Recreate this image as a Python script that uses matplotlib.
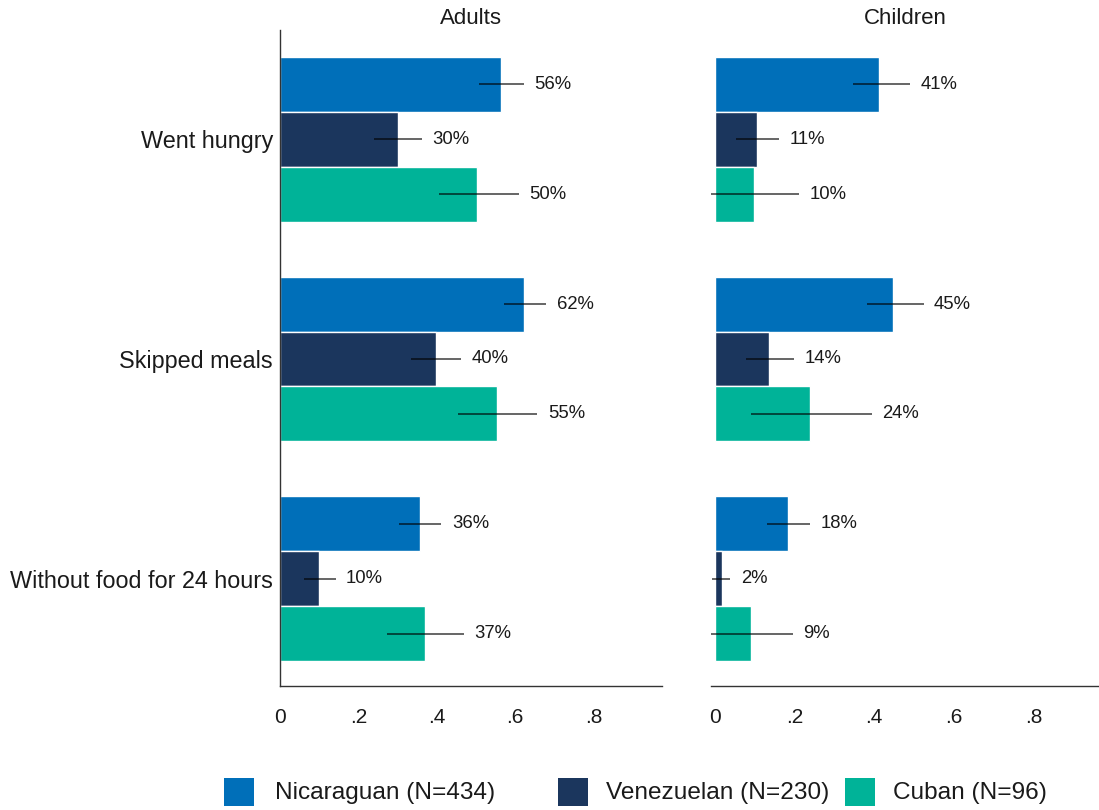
import matplotlib
matplotlib.use("Agg")
import matplotlib.pyplot as plt
from matplotlib.patches import Rectangle
import numpy as np

plt.rcParams['font.family'] = ['Liberation Sans', 'DejaVu Sans']

categories = ["Went hungry", "Skipped meals", "Without food for 24 hours"]
groups = ["Nicaraguan (N=434)", "Venezuelan (N=230)", "Cuban (N=96)"]
colors = ["#006FB9", "#1B365D", "#00B398"]
panels = ["Adults", "Children"]
xtick_vals = [0, 0.2, 0.4, 0.6, 0.8]
xtick_labels = ["0", ".2", ".4", ".6", ".8"]

# Adults
adults_nic = [0.564, 0.624, 0.357]
adults_ven = [0.300, 0.397, 0.100]
adults_cub = [0.503, 0.554, 0.370]
adults_nic_lo = [0.508, 0.571, 0.304]
adults_nic_hi = [0.622, 0.680, 0.412]
adults_ven_lo = [0.241, 0.334, 0.061]
adults_ven_hi = [0.363, 0.463, 0.142]
adults_cub_lo = [0.406, 0.455, 0.272]
adults_cub_hi = [0.609, 0.657, 0.470]

# Children
children_nic = [0.413, 0.448, 0.183]
children_ven = [0.106, 0.136, 0.017]
children_cub = [0.098, 0.240, 0.090]
children_nic_lo = [0.348, 0.381, 0.130]
children_nic_hi = [0.490, 0.524, 0.239]
children_ven_lo = [0.052, 0.078, -0.008]
children_ven_hi = [0.161, 0.199, 0.039]
children_cub_lo = [-0.010, 0.090, -0.010]
children_cub_hi = [0.212, 0.395, 0.195]

panel_data = [
    ([adults_nic, adults_ven, adults_cub],
     [adults_nic_lo, adults_ven_lo, adults_cub_lo],
     [adults_nic_hi, adults_ven_hi, adults_cub_hi]),
    ([children_nic, children_ven, children_cub],
     [children_nic_lo, children_ven_lo, children_cub_lo],
     [children_nic_hi, children_ven_hi, children_cub_hi]),
]

W, H = 1099, 810
fig = plt.figure(figsize=(W / 100, H / 100), dpi=100)

axes_px = [(280, 662), (711, 1099)]
xlims = [(0, 0.975), (-0.01, 0.965)]
top_px, bot_px = 30, 686

text_col = "#1a1a1a"
group_pos = np.array([0, 4, 8])
offsets = [-1, 0, 1]

for p, (ax_px, xl) in enumerate(zip(axes_px, xlims)):
    ax = fig.add_axes([ax_px[0] / W, 1 - bot_px / H,
                       (ax_px[1] - ax_px[0]) / W, (bot_px - top_px) / H])
    vals, los, his = panel_data[p]
    for g in range(3):
        y = group_pos + offsets[g]
        ax.barh(y, vals[g], height=1.0, color=colors[g],
                edgecolor="white", linewidth=1.0, zorder=2)
        ax.hlines(y, los[g], his[g], color="black", alpha=0.7,
                  linewidth=1.2, zorder=3)
        for yi, v, hi in zip(y, vals[g], his[g]):
            ax.annotate(f"{round(v * 100):d}%", xy=(hi, yi),
                        xytext=(7.5, 0), textcoords="offset points",
                        ha="left", va="center", fontsize=13.3,
                        color=text_col)
    ax.set_xlim(*xl)
    ax.set_ylim(9.955, -1.99)
    ax.set_xticks(xtick_vals)
    ax.set_xticklabels(xtick_labels, fontsize=15, color=text_col)
    ax.tick_params(axis="x", length=0, pad=16)
    ax.set_title(panels[p], fontsize=16, color=text_col, pad=4)
    for s in ["top", "right"]:
        ax.spines[s].set_visible(False)
    ax.spines["bottom"].set_color("#333333")
    ax.spines["bottom"].set_linewidth(1.0)
    if p == 0:
        ax.spines["left"].set_color("#333333")
        ax.spines["left"].set_linewidth(1.0)
        ax.set_yticks(group_pos)
        ax.set_yticklabels(categories, fontsize=16.8, color=text_col)
        ax.tick_params(axis="y", length=0, pad=5)
    else:
        ax.spines["left"].set_visible(False)
        ax.set_yticks([])

# Legend (manual placement)
patch_x = [224, 558, 845]
text_x = [275, 606, 893]
for g in range(3):
    fig.add_artist(Rectangle((patch_x[g] / W, 1 - 806 / H), 30 / W, 28 / H,
                             transform=fig.transFigure, facecolor=colors[g],
                             edgecolor="none"))
    fig.text(text_x[g] / W, 1 - 793 / H, groups[g], fontsize=17.6,
             ha="left", va="center", color=text_col)

fig.savefig("out.png", dpi=100)
